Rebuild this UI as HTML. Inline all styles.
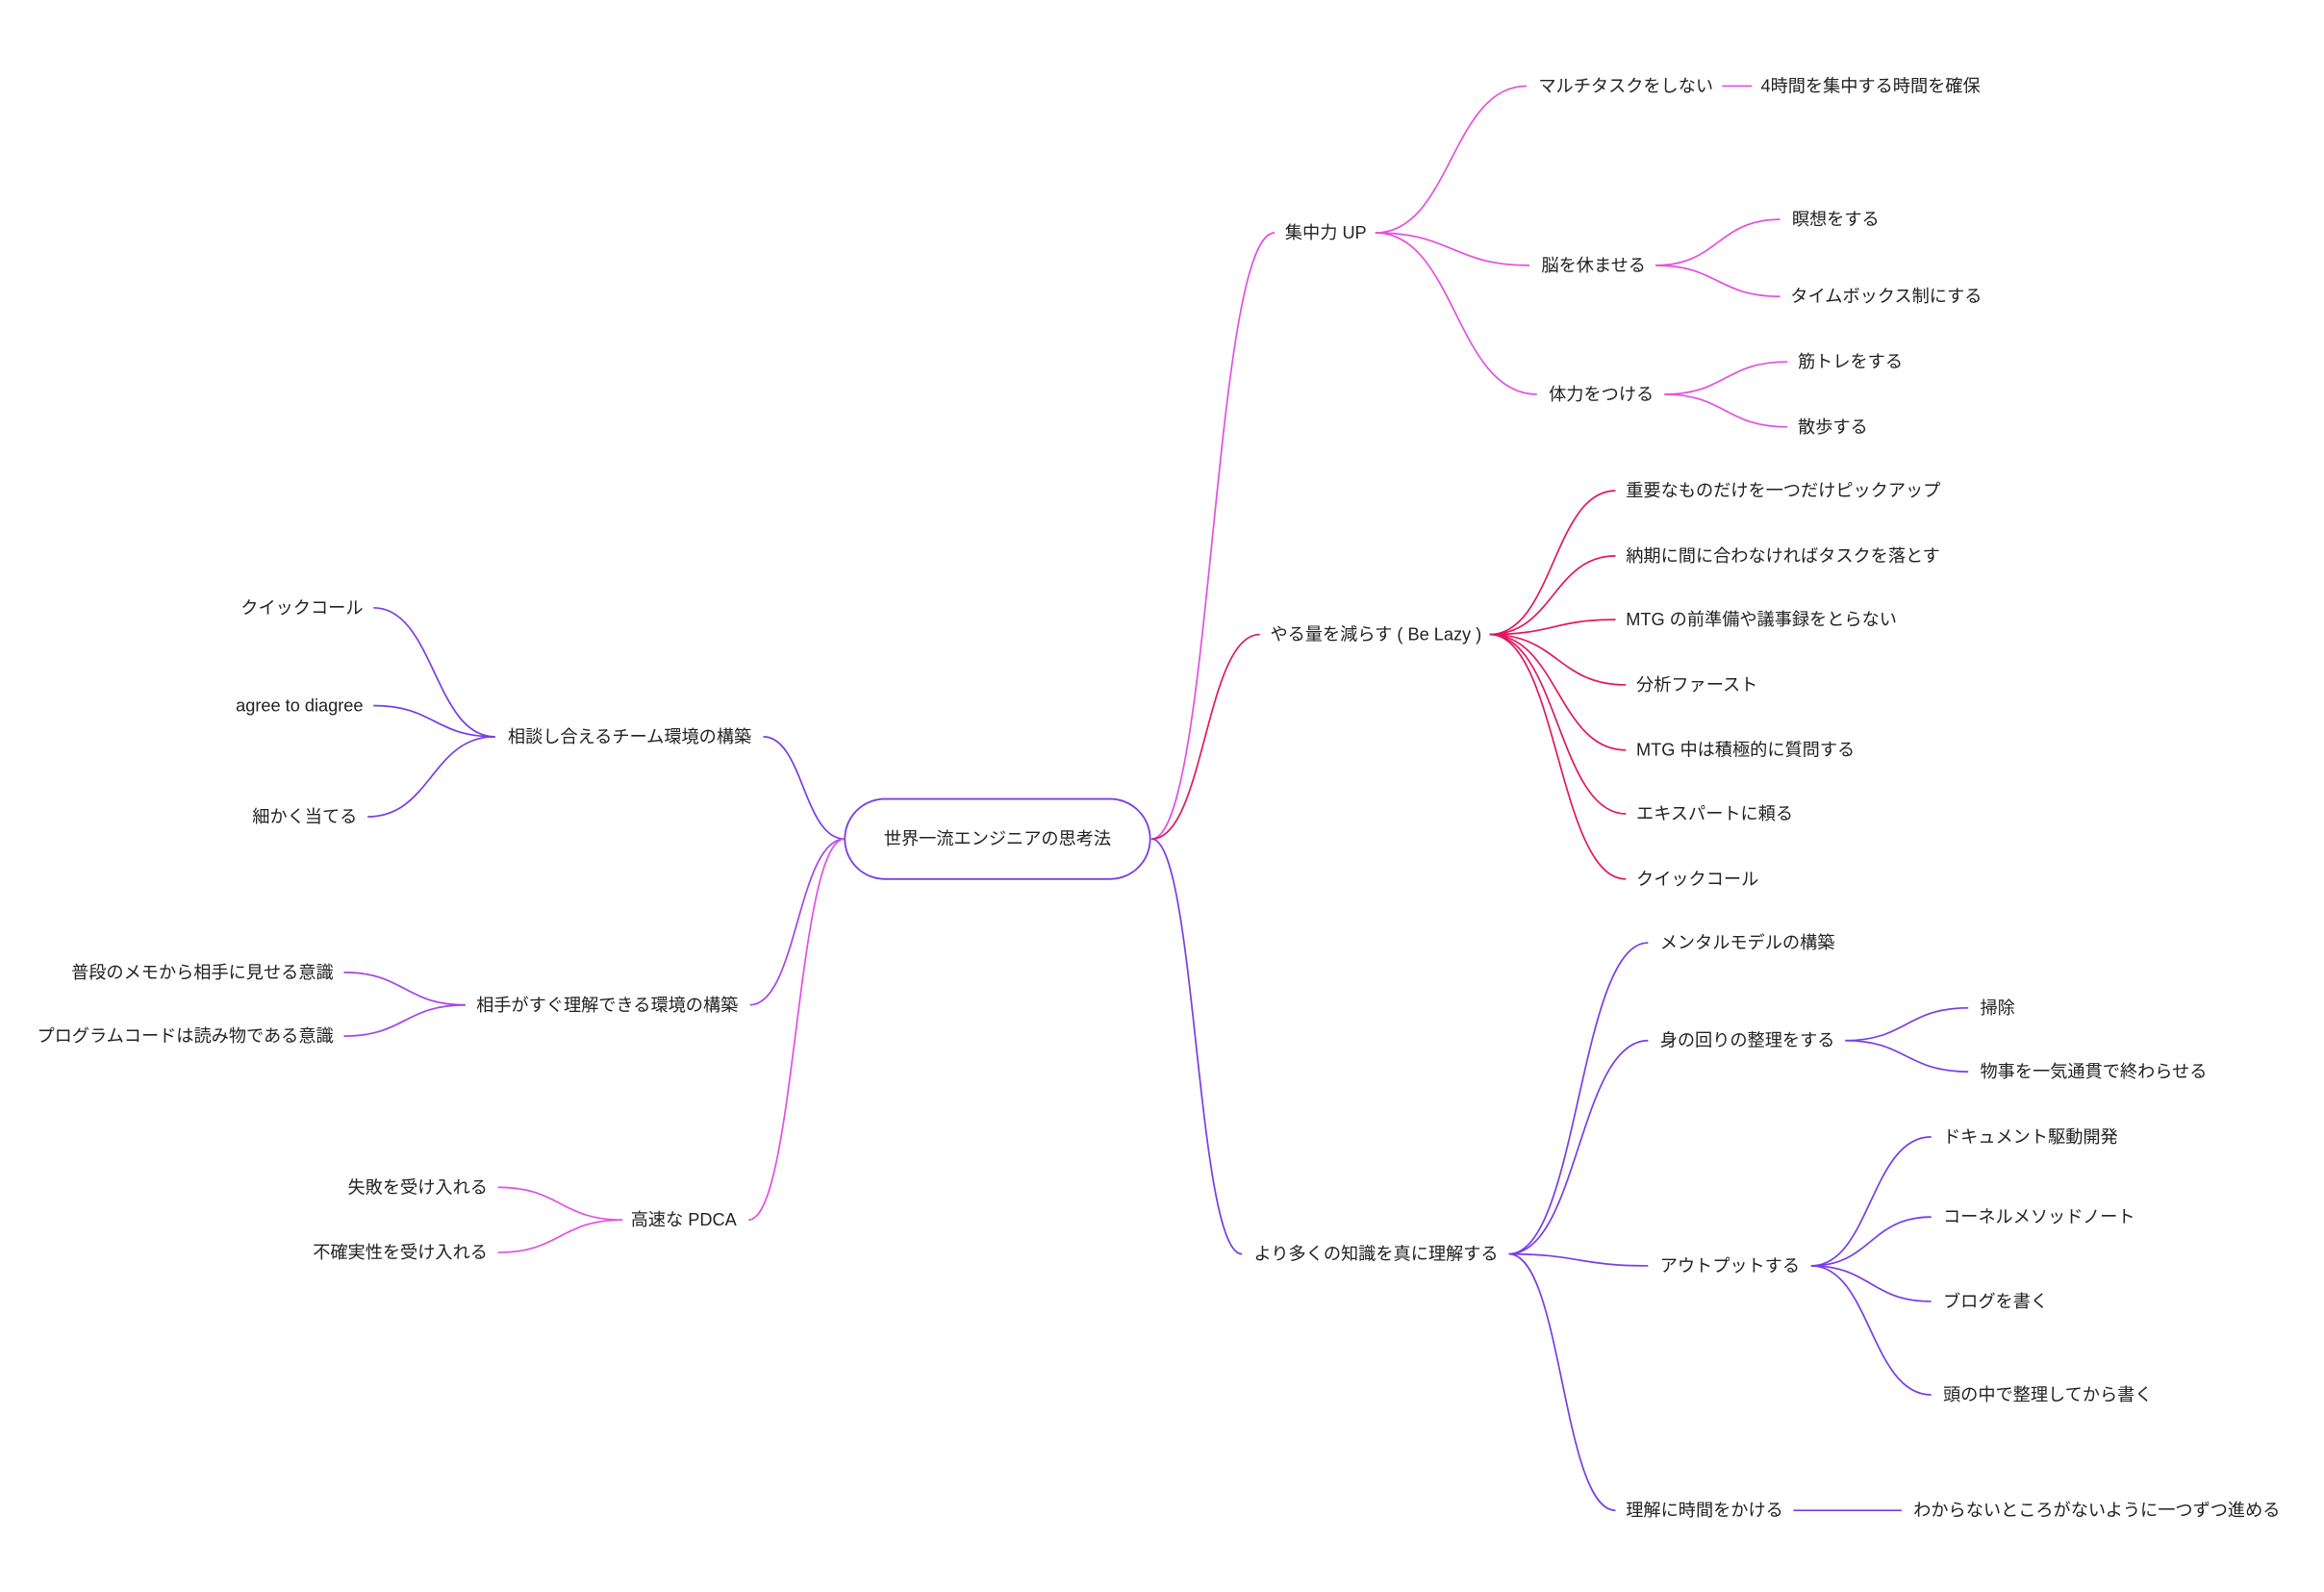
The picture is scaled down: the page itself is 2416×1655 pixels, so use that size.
<!DOCTYPE html>
<html><head><meta charset="utf-8"><style>
html,body{margin:0;padding:0;background:#fff;}
svg{display:block;}
text{font-family:"Liberation Sans","Noto Sans CJK JP",sans-serif;font-size:11.8px;fill:#222;dominant-baseline:central;}
.m{stroke:#e44fe0;fill:none;stroke-width:1.1}
.r{stroke:#e0185c;fill:none;stroke-width:1.1}
.p{stroke:#7a3ce6;fill:none;stroke-width:1.1}
.v{stroke:#a444ea;fill:none;stroke-width:1.1}
.e{text-anchor:end}
</style></head><body>
<svg width="2416" height="1655" viewBox="0 0 1568 1074" xmlns="http://www.w3.org/2000/svg">
<rect x="0" y="0" width="1568" height="1074" fill="#fff"/>
<path class="m" d="M777 566 C818 566 818 157 860 157"/>
<path class="r" d="M777 566 C813 566 813 428 850 428"/>
<path class="p" d="M777 566 C807 566 807 846 838 846"/>
<path class="p" d="M570 566 C542 566 542 497 515 497"/>
<path class="v" d="M570 566 C538 566 538 678 506 678"/>
<path class="m" d="M570 566 C537 566 537 823 505 823"/>
<rect x="570" y="539" width="206" height="54" rx="27" fill="#fff" stroke="#7a40e0" stroke-width="1.2"/>
<text x="673" y="566" text-anchor="middle">世界一流エンジニアの思考法</text>

<text x="867" y="157">集中力 UP</text>
<path class="m" d="M928 157 C979 157 979 58 1030 58"/>
<path class="m" d="M928 157 C980 157 980 179 1032 179"/>
<path class="m" d="M928 157 C982 157 982 266 1037 266"/>
<text x="1038" y="58">マルチタスクをしない</text>
<path class="m" d="M1162 58 L1182 58"/>
<text x="1188" y="58">4時間を集中する時間を確保</text>
<text x="1040" y="179">脳を休ませる</text>
<path class="m" d="M1117 179 C1159 179 1159 148 1201 148"/>
<path class="m" d="M1117 179 C1159 179 1159 200 1201 200"/>
<text x="1209" y="148">瞑想をする</text>
<text x="1208" y="200">タイムボックス制にする</text>
<text x="1045" y="266">体力をつける</text>
<path class="m" d="M1123 266 C1164 266 1164 244 1206 244"/>
<path class="m" d="M1123 266 C1164 266 1164 288 1206 288"/>
<text x="1213" y="244">筋トレをする</text>
<text x="1213" y="288">散歩する</text>

<text x="857" y="428">やる量を減らす ( Be Lazy )</text>
<path class="r" d="M1005 428 C1048 428 1048 331 1090 331"/>
<path class="r" d="M1005 428 C1048 428 1048 375 1090 375"/>
<path class="r" d="M1005 428 C1048 428 1048 418 1090 418"/>
<path class="r" d="M1005 428 C1051 428 1051 462 1097 462"/>
<path class="r" d="M1005 428 C1051 428 1051 506 1097 506"/>
<path class="r" d="M1005 428 C1051 428 1051 549 1097 549"/>
<path class="r" d="M1005 428 C1051 428 1051 593 1097 593"/>
<text x="1097" y="331">重要なものだけを一つだけピックアップ</text>
<text x="1097" y="375">納期に間に合わなければタスクを落とす</text>
<text x="1097" y="418">MTG の前準備や議事録をとらない</text>
<text x="1104" y="462">分析ファースト</text>
<text x="1104" y="506">MTG 中は積極的に質問する</text>
<text x="1104" y="549">エキスパートに頼る</text>
<text x="1104" y="593">クイックコール</text>

<text x="846" y="846">より多くの知識を真に理解する</text>
<path class="p" d="M1018 846 C1065 846 1065 636 1112 636"/>
<path class="p" d="M1018 846 C1065 846 1065 702 1112 702"/>
<path class="p" d="M1018 846 C1065 846 1065 854 1112 854"/>
<path class="p" d="M1018 846 C1054 846 1054 1019 1090 1019"/>
<text x="1120" y="636">メンタルモデルの構築</text>
<text x="1120" y="702">身の回りの整理をする</text>
<path class="p" d="M1245 702 C1286 702 1286 680 1328 680"/>
<path class="p" d="M1245 702 C1286 702 1286 723 1328 723"/>
<text x="1336" y="680">掃除</text>
<text x="1336" y="723">物事を一気通貫で終わらせる</text>
<text x="1120" y="854">アウトプットする</text>
<path class="p" d="M1222 854 C1262 854 1262 767 1303 767"/>
<path class="p" d="M1222 854 C1262 854 1262 821 1303 821"/>
<path class="p" d="M1222 854 C1262 854 1262 878 1303 878"/>
<path class="p" d="M1222 854 C1262 854 1262 941 1303 941"/>
<text x="1311" y="767">ドキュメント駆動開発</text>
<text x="1311" y="821">コーネルメソッドノート</text>
<text x="1311" y="878">ブログを書く</text>
<text x="1311" y="941">頭の中で整理してから書く</text>
<text x="1097" y="1019">理解に時間をかける</text>
<path class="p" d="M1210 1019 L1283 1019"/>
<text x="1291" y="1019">わからないところがないように一つずつ進める</text>

<text class="e" x="507" y="497">相談し合えるチーム環境の構築</text>
<path class="p" d="M334 497 C293 497 293 410 252 410"/>
<path class="p" d="M334 497 C293 497 293 476 252 476"/>
<path class="p" d="M334 497 C291 497 291 551 248 551"/>
<text class="e" x="245" y="410">クイックコール</text>
<text class="e" x="245" y="476">agree to diagree</text>
<text class="e" x="241" y="551">細かく当てる</text>

<text class="e" x="498" y="678">相手がすぐ理解できる環境の構築</text>
<path class="v" d="M314 678 C273 678 273 656 232 656"/>
<path class="v" d="M314 678 C273 678 273 699 232 699"/>
<text class="e" x="225" y="656">普段のメモから相手に見せる意識</text>
<text class="e" x="225" y="699">プログラムコードは読み物である意識</text>

<text class="e" x="497" y="823">高速な PDCA</text>
<path class="m" d="M420 823 C378 823 378 801 336 801"/>
<path class="m" d="M420 823 C378 823 378 845 336 845"/>
<text class="e" x="329" y="801">失敗を受け入れる</text>
<text class="e" x="329" y="845">不確実性を受け入れる</text>
</svg>
</body></html>
